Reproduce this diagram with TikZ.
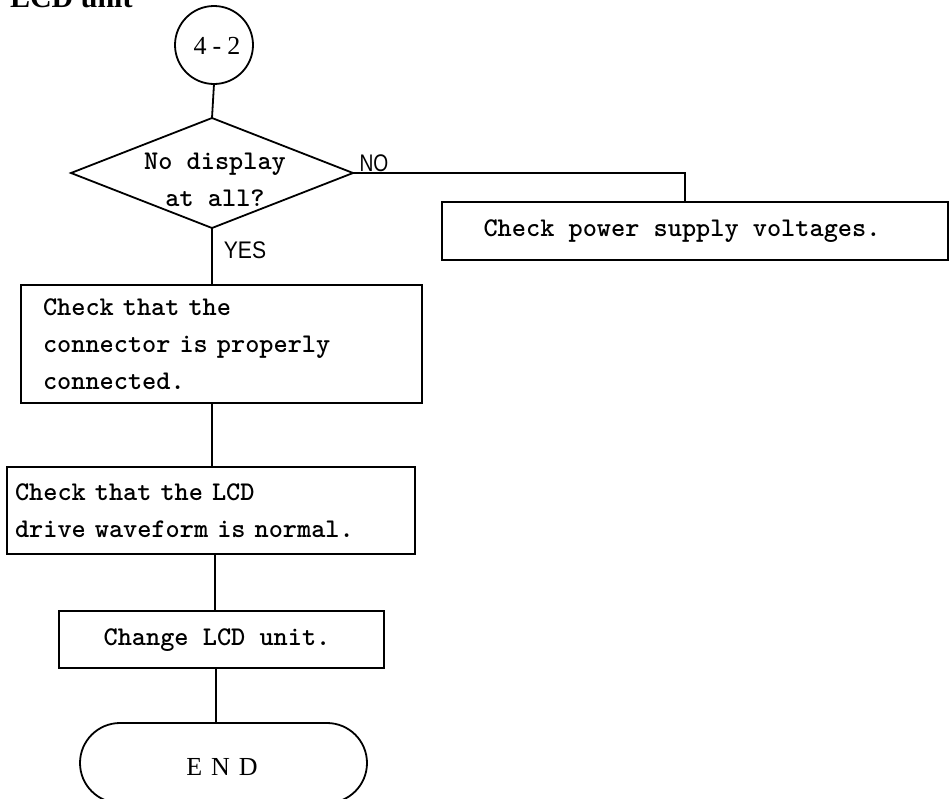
\documentclass[tikz,border=0pt]{standalone}
\usepackage{fontspec}
\newfontfamily\titlefont{Liberation Serif}
\newfontfamily\labfont{Liberation Sans}
\usetikzlibrary{shapes.geometric}
\newcommand\monofnt{\fontsize{27}{37}\selectfont\ttfamily\fontseries{b}\selectfont}
\begin{document}
\begin{tikzpicture}[x=1pt,y=-1pt,
  line width=1.8pt,
  every node/.style={outer sep=0pt},
  txt/.style={font=\monofnt, inner sep=0pt},
  boxl/.style={draw, font=\monofnt, align=left, anchor=north west, inner ysep=0pt},
  lab/.style={font=\fontsize{24}{24}\selectfont\labfont, inner sep=0pt},
  serifl/.style={inner sep=0pt, font=\fontsize{26}{26}\selectfont\titlefont},
]
\useasboundingbox (0,0) rectangle (950,798);
\node[anchor=base west, inner sep=0pt, font=\fontsize{30}{30}\selectfont\titlefont\bfseries] (title) at (10,7) {LCD unit};
% start connector
\node[draw, circle, minimum size=78pt, inner sep=0pt] (c) at (214,45) {};
\node[serifl] (ct) at (217,46) {4\hspace{6pt}-\hspace{6pt}2};
% decision
\node[draw, diamond, minimum width=282pt, minimum height=110pt, inner sep=0pt] (d) at (212,173) {};
\node[txt, align=center] (dt) at (215,180) {No display\\at all?};
% power supply box
\node[draw, minimum width=506pt, minimum height=58pt, inner sep=0pt] (p) at (695,231) {};
\node[txt] (pt) at (682,231) {Check power supply voltages.};
\coordinate (k) at (685,173);
% step boxes
\node[boxl, minimum width=401pt, minimum height=118pt, inner xsep=22pt, text width=357pt] (b1) at (21,285) {Check that the\\connector is properly\\connected.};
\node[boxl, minimum width=408pt, minimum height=87pt, inner xsep=8pt, text width=392pt] (b2) at (7,467) {Check that the LCD\\drive waveform is normal.};
\node[draw, minimum width=325pt, minimum height=57pt, inner sep=0pt] (b3) at (221.5,639.5) {};
\node[txt] (b3t) at (217,640) {Change LCD unit.};
% end terminal
\node[draw, rounded corners=40pt, minimum width=287pt, minimum height=80pt, inner sep=0pt] (e) at (223.5,763) {};
\node[serifl] (et) at (222,767) {E\hspace{9pt}N\hspace{9pt}D};
% connectors
\draw (c.south) -- (d.north);
\draw (d.east) -- (k) -- (k |- p.north);
\draw (d.south) -- (d.south |- b1.north);
\draw (d.south |- b1.south) -- (d.south |- b2.north);
\draw (215,0 |- b2.south) -- (215,0 |- b3.north);
\draw (216,0 |- b3.south) -- (216,0 |- e.north);
% labels
\node[lab] (no) at (374,163) {\scalebox{0.8}[1]{NO}};
\node[lab] (yes) at (245,250) {\scalebox{0.88}[1]{YES}};
\end{tikzpicture}
\end{document}
